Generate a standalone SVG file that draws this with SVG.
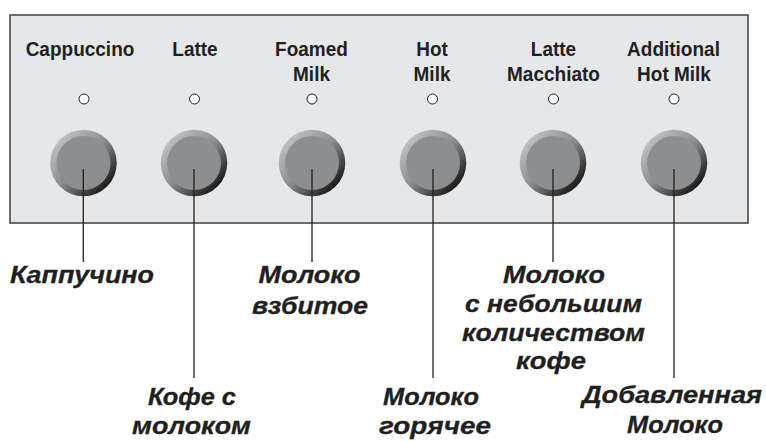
<svg xmlns="http://www.w3.org/2000/svg" width="766" height="442" viewBox="0 0 766 442">
<style>
.panel{fill:#e6e7e8;stroke:#4a4a4a;stroke-width:1.6}
.top{font-family:"Liberation Sans",Arial,sans-serif;font-weight:bold;font-size:19px;fill:#231f20;text-anchor:middle}
.bot{font-family:"Liberation Sans",Arial,sans-serif;font-weight:bold;font-style:italic;font-size:23px;fill:#231f20;text-anchor:middle;stroke:#231f20;stroke-width:0.3}
.led{fill:#fff;stroke:#231f20;stroke-width:1}
.ring{fill:url(#ringGrad)}
.cap{fill:#8d8e90}
.con line{stroke:#231f20;stroke-width:1.3}
</style>
<defs>
<linearGradient id="ringGrad" x1="0.15" y1="0.15" x2="0.85" y2="0.85">
<stop offset="0" stop-color="#bdbec0"/>
<stop offset="0.5" stop-color="#8a8b8d"/>
<stop offset="1" stop-color="#1c1c1c"/>
</linearGradient>
</defs>
<rect class="panel" x="10" y="15" width="738" height="208"/>
<g id="cappuccino">
<text class="top" transform="translate(80,56) scale(1,1.1)">Cappuccino</text>
<circle class="led" cx="84" cy="99" r="5"/>
<circle class="ring" cx="83.5" cy="163" r="33.3"/>
<circle class="cap" cx="83.5" cy="163" r="27"/>
<text class="bot" x="82" y="283" textLength="144" lengthAdjust="spacingAndGlyphs">Каппучино</text>
</g>
<g id="latte">
<text class="top" transform="translate(195,56) scale(1,1.1)">Latte</text>
<circle class="led" cx="194.5" cy="99" r="5"/>
<circle class="ring" cx="194" cy="163" r="33.3"/>
<circle class="cap" cx="194" cy="163" r="27"/>
<text class="bot" x="192" y="405" textLength="88" lengthAdjust="spacingAndGlyphs">Кофе с</text>
<text class="bot" x="191.5" y="434" textLength="119" lengthAdjust="spacingAndGlyphs">молоком</text>
</g>
<g id="foamed-milk">
<text class="top" transform="translate(311.5,56) scale(1,1.1)">Foamed</text>
<text class="top" transform="translate(311.5,80.5) scale(1,1.1)">Milk</text>
<circle class="led" cx="312" cy="99" r="5"/>
<circle class="ring" cx="312" cy="163" r="33.3"/>
<circle class="cap" cx="312" cy="163" r="27"/>
<text class="bot" x="309.5" y="283" textLength="102" lengthAdjust="spacingAndGlyphs">Молоко</text>
<text class="bot" x="310" y="314" textLength="116" lengthAdjust="spacingAndGlyphs">взбитое</text>
</g>
<g id="hot-milk">
<text class="top" transform="translate(432,56) scale(1,1.1)">Hot</text>
<text class="top" transform="translate(432,80.5) scale(1,1.1)">Milk</text>
<circle class="led" cx="432.5" cy="99" r="5"/>
<circle class="ring" cx="433" cy="163" r="33.3"/>
<circle class="cap" cx="433" cy="163" r="27"/>
<text class="bot" x="431" y="405" textLength="96" lengthAdjust="spacingAndGlyphs">Молоко</text>
<text class="bot" x="435" y="434" textLength="112" lengthAdjust="spacingAndGlyphs">горячее</text>
</g>
<g id="latte-macchiato">
<text class="top" transform="translate(553.5,56) scale(1,1.1)">Latte</text>
<text class="top" transform="translate(553.5,80.5) scale(1,1.1)">Macchiato</text>
<circle class="led" cx="553.5" cy="99" r="5"/>
<circle class="ring" cx="553" cy="163" r="33.3"/>
<circle class="cap" cx="553" cy="163" r="27"/>
<text class="bot" x="554" y="283" textLength="102" lengthAdjust="spacingAndGlyphs">Молоко</text>
<text class="bot" x="553.5" y="311.5" textLength="177" lengthAdjust="spacingAndGlyphs">с небольшим</text>
<text class="bot" x="553.5" y="340.5" textLength="183" lengthAdjust="spacingAndGlyphs">количеством</text>
<text class="bot" x="551" y="369" textLength="70" lengthAdjust="spacingAndGlyphs">кофе</text>
</g>
<g id="additional-hot-milk">
<text class="top" transform="translate(673.5,56) scale(1,1.1)">Additional</text>
<text class="top" transform="translate(674,80.5) scale(1,1.1)">Hot Milk</text>
<circle class="led" cx="674" cy="99" r="5"/>
<circle class="ring" cx="674" cy="163" r="33.3"/>
<circle class="cap" cx="674" cy="163" r="27"/>
<text class="bot" x="672" y="403" textLength="180" lengthAdjust="spacingAndGlyphs">Добавленная</text>
<text class="bot" x="675" y="433" textLength="96" lengthAdjust="spacingAndGlyphs">Молоко</text>
</g>
<g id="connectors" class="con">
<line x1="83.3" y1="169" x2="83.3" y2="262"/>
<line x1="194" y1="169" x2="194" y2="378"/>
<line x1="312" y1="169" x2="312" y2="262"/>
<line x1="433" y1="169" x2="433" y2="378"/>
<line x1="553" y1="169" x2="553" y2="262"/>
<line x1="674" y1="169" x2="674" y2="378"/>
</g>
</svg>
